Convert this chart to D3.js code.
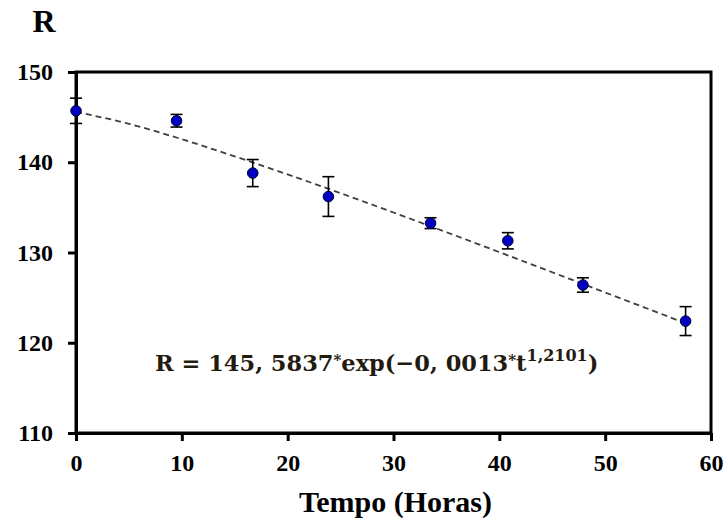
<!DOCTYPE html>
<html>
<head>
<meta charset="utf-8">
<script src="https://cdn.jsdelivr.net/npm/d3@7"></script>
<style>
html,body{margin:0;padding:0;background:#fff;}
svg{display:block;}
.serif{font-family:"Liberation Serif";font-weight:bold;}
</style>
</head>
<body>
<svg id="chart" width="727" height="525"></svg>
<script>
// ---- data ----
const timeHours = [0, 9.5, 16.7, 23.85, 33.5, 40.8, 47.9, 57.6];
const rValues   = [145.7, 144.6, 138.8, 136.2, 133.25, 131.3, 126.4, 122.4];
const rErrors   = [1.4, 0.7, 1.5, 2.2, 0.6, 0.9, 0.8, 1.6];
// fitted curve values read at these times (R = 145,5837*exp(-0,0013*t^1,2101))
const fitTime   = [0, 5, 10, 15, 20, 25, 30, 35, 40, 45, 50, 55, 57.6];
const fitR      = [145.58, 144.26, 142.55, 140.65, 138.65, 136.57, 134.43, 132.25, 130.04, 127.81, 125.57, 123.33, 122.15];
const xTicks = [0, 10, 20, 30, 40, 50, 60];
const yTicks = [110, 120, 130, 140, 150];
const xTitle = "Tempo (Horas)";
const yTitle = "R";

const W = 727, H = 525;
const m = {left: 76, right: 16, top: 72, bottom: 92};
const svg = d3.select("#chart");
const x = d3.scaleLinear().domain([0, 60]).range([m.left, W - m.right]);
const y = d3.scaleLinear().domain([110, 150]).range([H - m.bottom, m.top]);

// frame (top/right)
svg.append("rect")
  .attr("x", x(0)).attr("y", y(150))
  .attr("width", x(60) - x(0)).attr("height", y(110) - y(150))
  .attr("fill", "none").attr("stroke", "#000").attr("stroke-width", 3);

// axes
const xAxis = svg.append("g").attr("transform", `translate(0,${y(110)})`)
  .call(d3.axisBottom(x).tickValues(xTicks).tickSizeInner(8).tickSizeOuter(0).tickPadding(13));
const yAxis = svg.append("g").attr("transform", `translate(${x(0)},0)`)
  .call(d3.axisLeft(y).tickValues(yTicks).tickSizeInner(8).tickSizeOuter(0).tickPadding(15));
[xAxis, yAxis].forEach(g => {
  g.attr("font-family", null).attr("font-size", null);
  g.select(".domain").attr("stroke", "#000").attr("stroke-width", 3);
  g.selectAll(".tick line").attr("stroke", "#000").attr("stroke-width", 3);
  g.selectAll(".tick text").attr("fill", "#000").attr("class", "serif")
    .attr("font-family", "Liberation Serif").attr("font-weight", "bold").attr("font-size", 24);
});

// fit curve
const line = d3.line().x((d, i) => x(fitTime[i])).y(d => y(d)).curve(d3.curveMonotoneX);
svg.append("path").datum(fitR).attr("d", line)
  .attr("fill", "none").attr("stroke", "#404040").attr("stroke-width", 1.8)
  .attr("stroke-dasharray", "6,4");

// error bars
const pts = timeHours.map((t, i) => ({t, r: rValues[i], e: rErrors[i]}));
const eb = svg.append("g").attr("stroke", "#000").attr("stroke-width", 1.6);
pts.forEach(p => {
  eb.append("line").attr("x1", x(p.t)).attr("x2", x(p.t)).attr("y1", y(p.r - p.e)).attr("y2", y(p.r + p.e));
  [p.r - p.e, p.r + p.e].forEach(v => {
    eb.append("line").attr("x1", x(p.t) - 6).attr("x2", x(p.t) + 6).attr("y1", y(v)).attr("y2", y(v));
  });
});

// points
svg.append("g").selectAll("circle").data(pts).join("circle")
  .attr("cx", d => x(d.t)).attr("cy", d => y(d.r)).attr("r", 5.3)
  .attr("fill", "#0000c0").attr("stroke", "#00003a").attr("stroke-width", 1);

// titles
svg.append("text").attr("x", x(30) + 2).attr("y", 512).attr("text-anchor", "middle")
  .attr("class", "serif").attr("font-size", 30)
  .text(xTitle);
svg.append("text").attr("x", 44).attr("y", 32).attr("text-anchor", "middle")
  .attr("class", "serif").attr("font-size", 32)
  .text(yTitle);

// equation
const eq = svg.append("text").attr("x", 155).attr("y", 371)
  .style("font-family", "'DejaVu Serif',serif").style("font-weight", "bold").style("font-size", "22.5px")
  .attr("fill", "#231a10");
eq.append("tspan").text("R = 145, 5837");
eq.append("tspan").attr("dy", -6).style("font-size", "15px").text("*");
eq.append("tspan").attr("dy", 6).text("exp(\u22120, 0013");
eq.append("tspan").attr("dy", -6).style("font-size", "15px").text("*");
eq.append("tspan").attr("dy", 6).text("t");
eq.append("tspan").attr("dy", -10).style("font-size", "16px").text("1,2101");
eq.append("tspan").attr("dy", 10).text(")");
</script>
</body>
</html>
